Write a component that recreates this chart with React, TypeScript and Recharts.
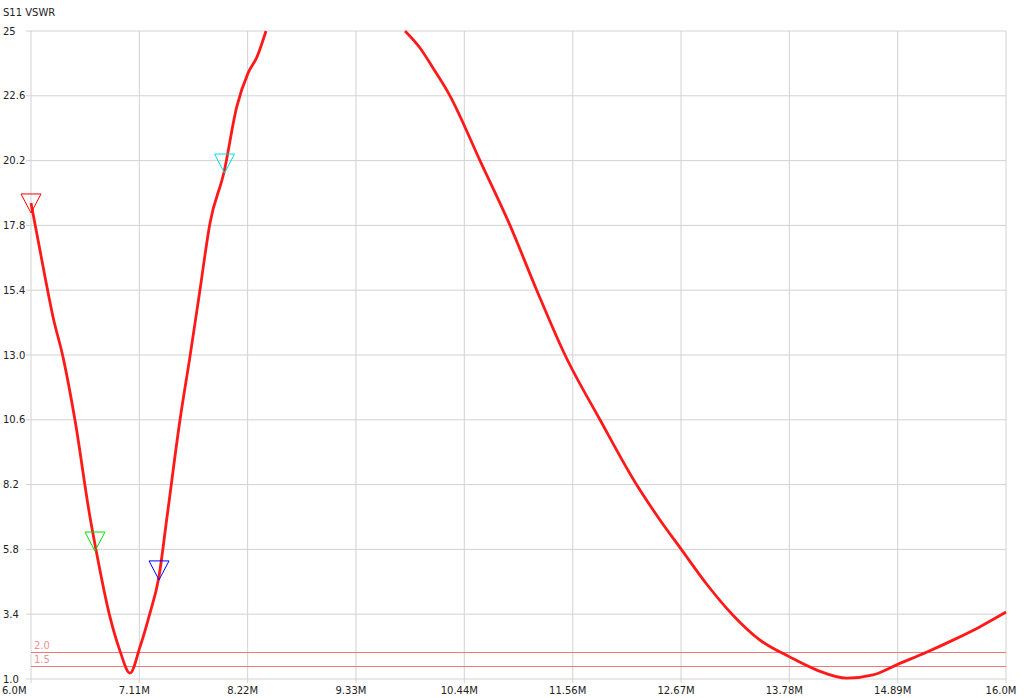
import { ComposedChart, Line, Scatter, XAxis, YAxis, CartesianGrid, ReferenceLine } from 'recharts'

// sweep trace, MHz / VSWR (null = off the top of the scale)
const freqs = [
  6.0, 6.144, 6.226, 6.328, 6.451, 6.605, 6.667, 6.81, 6.91, 7.015,
  7.118, 7.22, 7.31, 7.395, 7.528, 7.63, 7.733, 7.836, 7.98, 8.11,
  8.226, 8.318, 8.41, 9.1, 9.836, 9.99, 10.123, 10.297, 10.605, 10.913,
  11.187, 11.477, 11.836, 12.21, 12.451, 12.67, 12.933, 13.19, 13.477, 13.785,
  14.06, 14.37, 14.636, 14.9, 15.19, 15.456, 15.73, 16.0,
]
const vswr: (number | null)[] = [
  18.63, 15.89, 14.41, 12.93, 10.59, 7.0, 5.78, 3.3, 2.07, 1.22,
  2.19, 3.44, 4.74, 7.0, 10.59, 12.93, 15.41, 17.89, 19.78, 22.19,
  23.44, 24.04, 25.0, null, 25.0, 24.37, 23.63, 22.6, 20.2, 17.8,
  15.4, 13.0, 10.6, 8.2, 6.89, 5.8, 4.5, 3.4, 2.44, 1.81,
  1.33, 1.03, 1.15, 1.56, 2.0, 2.44, 2.93, 3.48,
]

const markerFreqs = [6.0, 6.656, 7.313, 7.985]
const markerVswr = [18.26, 5.74, 4.67, 19.74]
const markerColors = ['#ff0000', '#00e000', '#0000ff', '#00e0e0']

const xTicks = [6, 7.111, 8.222, 9.333, 10.444, 11.556, 12.667, 13.778, 14.889, 16]
const xTickLabels = ['6.0M', '7.11M', '8.22M', '9.33M', '10.44M', '11.56M', '12.67M', '13.78M', '14.89M', '16.0M']
const yTicks = [1.0, 3.4, 5.8, 8.2, 10.6, 13.0, 15.4, 17.8, 20.2, 22.6, 25]
const yTickLabels = ['1.0', '3.4', '5.8', '8.2', '10.6', '13.0', '15.4', '17.8', '20.2', '22.6', '25']

const limitLines = [2.0, 1.5]
const limitLabels = ['2.0', '1.5']

const traceData = freqs.map((f, i) => ({ f, v: vswr[i] }))
const markerData = markerFreqs.map((f, i) => ({ f, v: markerVswr[i], color: markerColors[i] }))

const FONT = '"DejaVu Sans", sans-serif'
const GRID = '#d2d2d2'

const XTick = ({ x, y, index }: any) => {
  const first = index === 0
  return (
    <g>
      <line x1={x} x2={x} y1={679} y2={683} stroke={GRID} />
      <text
        x={first ? 2 : x - 5}
        y={y}
        dy="0.71em"
        textAnchor={first ? 'start' : 'middle'}
        fontSize={10}
        fontFamily={FONT}
        fill="#222"
      >
        {xTickLabels[index]}
      </text>
    </g>
  )
}

const YTick = ({ y, index }: any) => (
  <g>
    <line x1={26} x2={31} y1={y} y2={y} stroke={GRID} />
    <text x={3} y={y} dy="0.36em" textAnchor="start" fontSize={10} fontFamily={FONT} fill="#222">
      {yTickLabels[index]}
    </text>
  </g>
)

// thin limit line snapped to a pixel row
const LimitLine = (p: any) => {
  const y = Math.round(p.y1) + 0.5
  return <line x1={p.x1} x2={p.x2} y1={y} y2={y} stroke="#ec7a7a" strokeWidth={1} />
}

// downward triangle with its tip on the marker value
const MarkerShape = (props: any) => {
  const { cx, cy, payload } = props
  return (
    <path
      d={`M${cx - 10},${cy - 19} L${cx + 10},${cy - 19} L${cx},${cy} Z`}
      fill="none"
      stroke={payload.color}
      strokeWidth={1}
    />
  )
}

export default function App() {
  return (
    <div style={{ position: 'absolute', left: 0, top: 0, width: 1024, height: 698, background: '#fff' }}>
      <div
        style={{ position: 'absolute', left: 3, top: 7, fontSize: 10, fontFamily: FONT, color: '#222', lineHeight: '12px' }}
      >
        S11 VSWR
      </div>
      <ComposedChart width={1024} height={698} margin={{ top: 31, right: 18, left: 0, bottom: 0 }}>
        <CartesianGrid stroke={GRID} strokeWidth={1} />
        <XAxis
          type="number"
          dataKey="f"
          domain={[6, 16]}
          ticks={xTicks}
          height={19}
          axisLine={false}
          tickLine={false}
          tick={<XTick />}
        />
        <YAxis
          type="number"
          domain={[1, 25]}
          ticks={yTicks}
          width={31}
          axisLine={false}
          tickLine={false}
          tick={<YTick />}
        />
        {limitLines.map((v, i) => (
          <ReferenceLine
            key={'lim' + i}
            y={v}
            shape={LimitLine}
            label={{ value: limitLabels[i], position: 'insideBottomLeft', offset: 3, fill: '#f09090', fontSize: 10, fontFamily: FONT }}
          />
        ))}
        <Line
          data={traceData}
          dataKey="v"
          type="monotone"
          stroke="#ff1a1a"
          strokeWidth={2.8}
          dot={false}
          activeDot={false}
          connectNulls={false}
          isAnimationActive={false}
        />
        <Scatter data={markerData} dataKey="v" shape={<MarkerShape />} isAnimationActive={false} />
      </ComposedChart>
    </div>
  )
}
